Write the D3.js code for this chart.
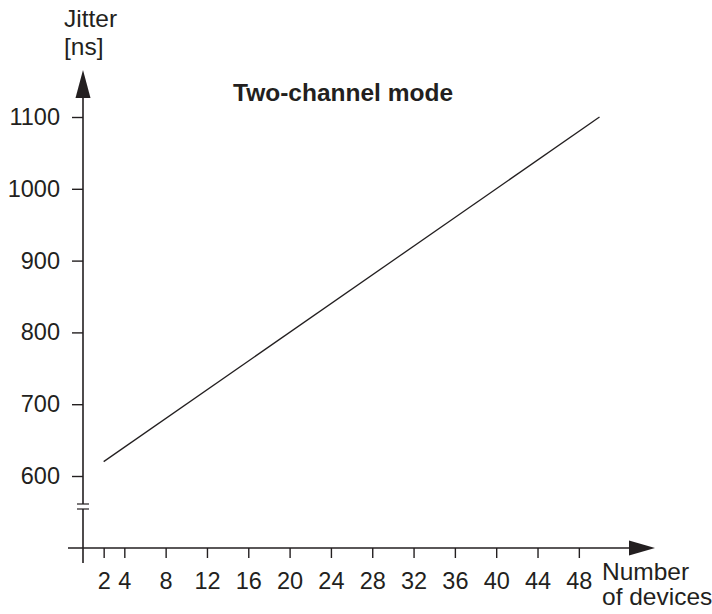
<!DOCTYPE html>
<html>
<head>
<meta charset="utf-8">
<script src="https://cdn.jsdelivr.net/npm/d3@7"></script>
<style>
  body { margin: 0; background: #fff; }
  svg text { font-family: "Liberation Sans", Arial, Helvetica, sans-serif; fill: #231f20; }
</style>
</head>
<body>
<div id="chart"></div>
<script>
// data
var deviceTicks = [2, 4, 8, 12, 16, 20, 24, 28, 32, 36, 40, 44, 48];
var jitterTicks = [600, 700, 800, 900, 1000, 1100];
var devices = [2, 50];
var jitter = [620, 1100];

var width = 712, height = 614;
var ink = "#231f20";

var svg = d3.select("#chart")
    .append("svg")
    .attr("width", width)
    .attr("height", height);

var x = d3.scaleLinear().domain([0, 50]).range([83, 599.5]);
var y = d3.scaleLinear().domain([600, 1100]).range([476, 117]);
var axisY = 548;

// y axis
var gy = svg.append("g")
    .attr("transform", "translate(" + x(0) + ",0)")
    .call(d3.axisLeft(y).tickValues(jitterTicks).tickSize(11).tickPadding(12).tickFormat(d3.format("d")));
gy.select(".domain").remove();
gy.selectAll("line").attr("stroke", ink).attr("stroke-width", 1.4);
gy.selectAll("text").style("font-size", "23.5px").attr("fill", ink);

// x axis
var gx = svg.append("g")
    .attr("transform", "translate(0," + axisY + ")")
    .call(d3.axisBottom(x).tickValues(deviceTicks).tickSize(10).tickPadding(14));
gx.select(".domain").remove();
gx.selectAll("line").attr("stroke", ink).attr("stroke-width", 1.4);
gx.selectAll("text").style("font-size", "23.5px").attr("fill", ink);

// axis lines
svg.append("line")
    .attr("x1", x(0)).attr("x2", x(0))
    .attr("y1", 563).attr("y2", 509)
    .attr("stroke", ink).attr("stroke-width", 1.6);
svg.append("line")
    .attr("x1", x(0)).attr("x2", x(0))
    .attr("y1", 504).attr("y2", 95)
    .attr("stroke", ink).attr("stroke-width", 1.6);
// break marks
[504, 509].forEach(function (yy) {
    svg.append("line")
        .attr("x1", x(0) - 6).attr("x2", x(0) + 6)
        .attr("y1", yy).attr("y2", yy)
        .attr("stroke", ink).attr("stroke-width", 1.2);
});
svg.append("line")
    .attr("x1", 68).attr("x2", 632)
    .attr("y1", axisY).attr("y2", axisY)
    .attr("stroke", ink).attr("stroke-width", 1.6);

// arrow heads
svg.append("path")
    .attr("d", "M" + x(0) + ",70 L" + (x(0) - 7.5) + ",98 L" + (x(0) + 7.5) + ",98 Z")
    .attr("fill", ink);
svg.append("path")
    .attr("d", "M655," + axisY + " L629," + (axisY - 7.5) + " L629," + (axisY + 7.5) + " Z")
    .attr("fill", ink);

// the data line
var line = d3.line()
    .x(function (d, i) { return x(devices[i]); })
    .y(function (d) { return y(d); });
svg.append("path")
    .datum(jitter)
    .attr("d", line)
    .attr("fill", "none")
    .attr("stroke", ink)
    .attr("stroke-width", 1.3);

// labels
svg.append("text").attr("x", 64).attr("y", 27).style("font-size", "24.5px").text("Jitter");
svg.append("text").attr("x", 64).attr("y", 55).style("font-size", "24.5px").text("[ns]");
svg.append("text").attr("x", 233).attr("y", 101)
    .style("font-size", "24.5px").style("font-weight", "bold")
    .text("Two-channel mode");
svg.append("text").attr("x", 602).attr("y", 580).style("font-size", "24.5px").text("Number");
svg.append("text").attr("x", 602).attr("y", 605).style("font-size", "24.5px").text("of devices");
</script>
</body>
</html>
